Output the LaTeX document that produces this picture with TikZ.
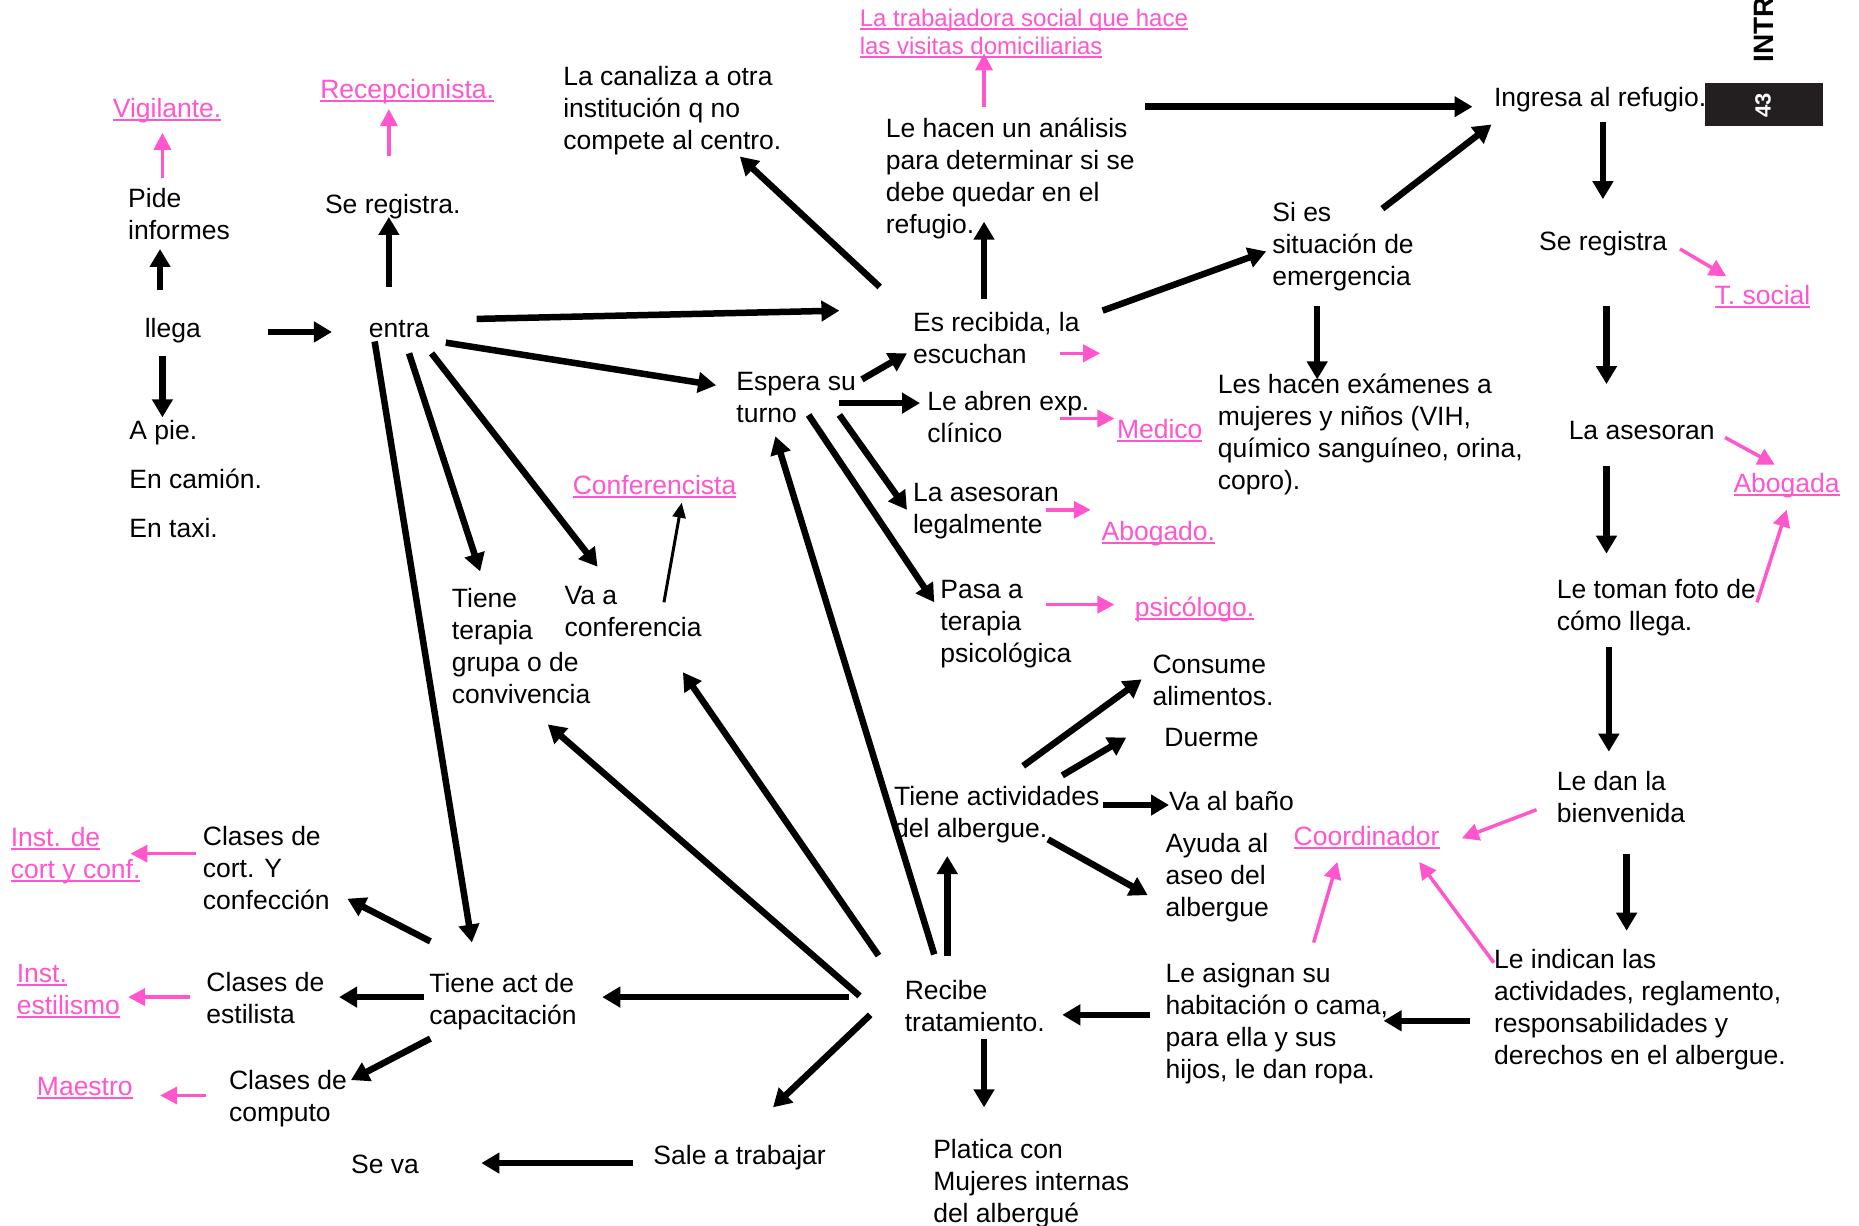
\documentclass[tikz,border=0pt]{standalone}
\usepackage{fontspec}
\setmainfont{Liberation Sans}
\usetikzlibrary{arrows.meta}
\definecolor{pk}{RGB}{255,85,205}
\definecolor{boxblk}{RGB}{35,31,32}
\newcommand\pinkul[1]{\leavevmode\setbox0\hbox{#1}\rlap{\rule[-3.5pt]{\wd0}{2pt}}\box0}
\newcommand\ml[1]{\begin{tabular}[t]{@{}l@{}}#1\end{tabular}}
\begin{document}
\begin{tikzpicture}[x=1.1856pt,y=-1.1856pt,
  txt/.style={anchor=base west, inner sep=0pt, font=\fontsize{26.5}{32}\selectfont},
  ptxt/.style={txt, text=pk},
  blk/.style={line width=6.5pt, -{Triangle[length=18pt,width=20pt]}},
  pka/.style={draw=pk, line width=3.5pt, -{Triangle[length=17pt,width=17pt]}},
  thinarr/.style={line width=3pt, -{Triangle[length=15pt,width=13pt]}}]
\useasboundingbox (0,0) rectangle (1568,1034);

% corner marks
\fill[boxblk] (1438,70) rectangle (1538,106);
\node[rotate=90, text=white, font=\fontsize{22}{24}\selectfont\bfseries, inner sep=0pt] (pagenum) at (1487,89) {43};
\node[rotate=90, anchor=base west, inner sep=0pt, font=\fontsize{28}{30}\selectfont\bfseries] (intro) at (1496,53) {INTRO};

% nodes
\node[ptxt] (vig) at (95,99) {\pinkul{Vigilante.}};
\node[ptxt] (recep) at (270,83) {\pinkul{Recepcionista.}};
\node[txt] (pide) at (108,175) {\ml{Pide\\informes}};
\node[txt] (sereg1) at (274,180) {Se registra.};
\node[txt] (llega) at (122,285) {llega};
\node[txt] (entra) at (311,285) {entra};
\node[txt, font=\fontsize{26.5}{48.6}\selectfont] (modos) at (109,371) {\ml{A pie.\\En camión.\\En taxi.}};
\node[txt] (canal) at (475,72) {\ml{La canaliza a otra\\institución q no\\compete al centro.}};
\node[ptxt, font=\fontsize{24}{28.5}\selectfont] (trab) at (725,22) {\ml{\pinkul{La trabajadora social que hace}\\\pinkul{las visitas domiciliarias}}};
\node[txt] (hacen) at (747,116) {\ml{Le hacen un análisis\\para determinar si se\\debe quedar en el\\refugio.}};
\node[txt] (ingresa) at (1260,90) {Ingresa al refugio.};
\node[txt] (recib) at (770,280) {\ml{Es recibida, la\\escuchan}};
\node[txt] (sies) at (1073,187) {\ml{Si es\\situación de\\emergencia}};
\node[txt] (exam) at (1027,332) {\ml{Les hacen exámenes a\\mujeres y niños (VIH,\\químico sanguíneo, orina,\\copro).}};
\node[txt] (espera) at (621,329) {\ml{Espera su\\turno}};
\node[txt] (abren) at (782,346) {\ml{Le abren exp.\\clínico}};
\node[ptxt] (medico) at (942,370) {\pinkul{Medico}};
\node[txt] (legal) at (770,423) {\ml{La asesoran\\legalmente}};
\node[ptxt] (abogado) at (929,456) {\pinkul{Abogado.}};
\node[txt] (pasa) at (793,505) {\ml{Pasa a\\terapia\\psicológica}};
\node[ptxt] (psico) at (957,520) {\pinkul{psicólogo.}};
\node[txt] (sereg2) at (1298,211) {Se registra};
\node[ptxt] (tsocial) at (1446,257) {\pinkul{T. social}};
\node[txt] (aseso) at (1323,371) {La asesoran};
\node[ptxt] (abogada) at (1462,415) {\pinkul{Abogada}};
\node[txt] (foto) at (1313,505) {\ml{Le toman foto de\\cómo llega.}};
\node[txt] (bienv) at (1313,667) {\ml{Le dan la\\bienvenida}};
\node[ptxt] (coord) at (1091,713) {\pinkul{Coordinador}};
\node[txt] (indican) at (1260,817) {\ml{Le indican las\\actividades, reglamento,\\responsabilidades y\\derechos en el albergue.}};
\node[txt] (asignan) at (983,829) {\ml{Le asignan su\\habitación o cama,\\para ella y sus\\hijos, le dan ropa.}};
\node[txt] (recibe) at (763,843) {\ml{Recibe\\tratamiento.}};
\node[txt] (platica) at (787,977) {\ml{Platica con\\Mujeres internas\\del albergué}};
\node[txt] (activ) at (754,679) {\ml{Tiene actividades\\del albergue.}};
\node[txt] (consume) at (972,568) {\ml{Consume\\alimentos.}};
\node[txt] (duerme) at (982,630) {Duerme};
\node[txt] (bano) at (986,684) {Va al baño};
\node[txt] (ayuda) at (983,719) {\ml{Ayuda al\\aseo del\\albergue}};
\node[txt] (sale) at (551,982) {Sale a trabajar};
\node[txt] (seva) at (296,990) {Se va};
\node[txt] (capac) at (362,837) {\ml{Tiene act de\\capacitación}};
\node[txt] (estil) at (174,836) {\ml{Clases de\\estilista}};
\node[ptxt] (instest) at (14,829) {\ml{\pinkul{Inst.}\\\pinkul{estilismo}}};
\node[txt] (corte) at (171,713) {\ml{Clases de\\cort. Y\\confección}};
\node[ptxt] (instcort) at (9,714) {\ml{\pinkul{Inst. de}\\\pinkul{cort y conf.}}};
\node[txt] (compu) at (193,919) {\ml{Clases de\\computo}};
\node[ptxt] (maestro) at (31,924) {\pinkul{Maestro}};
\node[txt] (terapia) at (381,512) {\ml{Tiene\\terapia\\grupa o de\\convivencia}};
\node[txt] (conf) at (476,510) {\ml{Va a\\conferencia}};
\node[ptxt] (confista) at (483,417) {\pinkul{Conferencista}};

% black connectors
\draw[blk] ([shift={(13,-40)}]llega.base west) -- ([shift={(27,35)}]pide.base west);
\draw[blk] ([shift={(17,-43)}]entra.base west) -- ([shift={(54,3)}]sereg1.base west);
\draw[blk] ([shift={(104,-5)}]llega.base west) -- ([shift={(-31,-5)}]entra.base west);
\draw[blk] ([shift={(15,15)}]llega.base west) -- ([shift={(28,-19)}]modos.base west);
\draw[blk] ([shift={(91,-16)}]entra.base west) -- ([shift={(-62,-18)}]recib.base west);
\draw[blk] ([shift={(-28,-38)}]recib.base west) -- ([shift={(149,60)}]canal.base west);
\draw[blk] ([shift={(60,-28)}]recib.base west) -- ([shift={(83,71)}]hacen.base west);
\draw[blk] ([shift={(219,-26)}]hacen.base west) -- ([shift={(-18,0)}]ingresa.base west);
\draw[blk] ([shift={(160,-18)}]recib.base west) -- ([shift={(-5,25)}]sies.base west);
\draw[blk] ([shift={(93,-11)}]sies.base west) -- ([shift={(-2,15)}]ingresa.base west);
\draw[blk] ([shift={(38,71)}]sies.base west) -- ([shift={(84,-12)}]exam.base west);
\draw[blk] ([shift={(65,4)}]entra.base west) -- ([shift={(-17,-4)}]espera.base west);
\draw[blk] ([shift={(106,-9)}]espera.base west) -- ([shift={(-5,18)}]recib.base west);
\draw[blk] ([shift={(87,11)}]espera.base west) -- ([shift={(-6,-6)}]abren.base west);
\draw[blk] ([shift={(87,21)}]espera.base west) -- ([shift={(-5,7)}]legal.base west);
\draw[blk] ([shift={(61,21)}]espera.base west) -- ([shift={(-5,3)}]pasa.base west);
\draw[blk] ([shift={(92,13)}]ingresa.base west) -- ([shift={(54,-43)}]sereg2.base west);
\draw[blk] ([shift={(57,47)}]sereg2.base west) -- ([shift={(32,-47)}]aseso.base west);
\draw[blk] ([shift={(32,22)}]aseso.base west) -- ([shift={(42,-38)}]foto.base west);
\draw[blk] ([shift={(44,41)}]foto.base west) -- ([shift={(44,-33)}]bienv.base west);
\draw[blk] ([shift={(59,53)}]bienv.base west) -- ([shift={(112,-32)}]indican.base west);
\draw[blk] ([shift={(-20,44)}]indican.base west) -- ([shift={(184,32)}]asignan.base west);
\draw[blk] ([shift={(-13,27)}]asignan.base west) -- ([shift={(133,13)}]recibe.base west);
\draw[blk] ([shift={(67,33)}]recibe.base west) -- ([shift={(43,-43)}]platica.base west);
\draw[blk] ([shift={(36,-37)}]recibe.base west) -- ([shift={(45,43)}]activ.base west);
\draw[blk] ([shift={(109,-33)}]activ.base west) -- ([shift={(-9,5)}]consume.base west);
\draw[blk] ([shift={(142,-25)}]activ.base west) -- ([shift={(-32,-8)}]duerme.base west);
\draw[blk] ([shift={(176,0)}]activ.base west) -- ([shift={(0,-5)}]bano.base west);
\draw[blk] ([shift={(130,29)}]activ.base west) -- ([shift={(-15,36)}]ayuda.base west);
\draw[blk] ([shift={(25,-38)}]recibe.base west) -- ([shift={(33,39)}]espera.base west);
\draw[blk] ([shift={(-22,-37)}]recibe.base west) -- ([shift={(100,57)}]conf.base west);
\draw[blk] ([shift={(-38,-3)}]recibe.base west) -- ([shift={(81,99)}]terapia.base west);
\draw[blk] ([shift={(-47,-2)}]recibe.base west) -- ([shift={(146,4)}]capac.base west);
\draw[blk] ([shift={(-29,13)}]recibe.base west) -- ([shift={(101,-48)}]sale.base west);
\draw[blk] ([shift={(-17,-1)}]sale.base west) -- ([shift={(110,-9)}]seva.base west);
\draw[blk] ([shift={(-4,4)}]capac.base west) -- ([shift={(112,5)}]estil.base west);
\draw[blk] ([shift={(1,-43)}]capac.base west) -- ([shift={(122,45)}]corte.base west);
\draw[blk] ([shift={(1,39)}]capac.base west) -- ([shift={(103,-8)}]compu.base west);
\draw[blk] ([shift={(5,3)}]entra.base west) -- ([shift={(36,-42)}]capac.base west);
\draw[blk] ([shift={(34,13)}]entra.base west) -- ([shift={(24,-30)}]terapia.base west);
\draw[blk] ([shift={(53,13)}]entra.base west) -- ([shift={(28,-32)}]conf.base west);
\draw[thinarr] ([shift={(84,-2)}]conf.base west) -- ([shift={(92,7)}]confista.base west);

% pink connectors
\coordinate (escfree) at ([shift={(158,18)}]recib.base west);
\draw[pka] ([shift={(29,-25)}]pide.base west) -- ([shift={(42,13)}]vig.base west);
\draw[pka] ([shift={(54,-48)}]sereg1.base west) -- ([shift={(58,9)}]recep.base west);
\draw[pka] ([shift={(83,-26)}]hacen.base west) -- ([shift={(105,23)}]trab.base west);
\draw[pka] ([shift={(124,18)}]recib.base west) -- (escfree);
\draw[pka] ([shift={(112,7)}]abren.base west) -- ([shift={(-2,-17)}]medico.base west);
\draw[pka] ([shift={(112,7)}]legal.base west) -- ([shift={(-9,-26)}]abogado.base west);
\draw[pka] ([shift={(89,5)}]pasa.base west) -- ([shift={(-17,-10)}]psico.base west);
\draw[pka] ([shift={(119,-1)}]sereg2.base west) -- ([shift={(10,-24)}]tsocial.base west);
\draw[pka] ([shift={(132,-2)}]aseso.base west) -- ([shift={(35,-23)}]abogada.base west);
\draw[pka] ([shift={(169,3)}]foto.base west) -- ([shift={(45,15)}]abogada.base west);
\draw[pka] ([shift={(-17,16)}]bienv.base west) -- ([shift={(142,-6)}]coord.base west);
\draw[pka] ([shift={(0,-5)}]indican.base west) -- ([shift={(106,14)}]coord.base west);
\draw[pka] ([shift={(125,-34)}]asignan.base west) -- ([shift={(37,14)}]coord.base west);
\draw[pka] ([shift={(-14,5)}]estil.base west) -- ([shift={(94,12)}]instest.base west);
\draw[pka] ([shift={(-6,7)}]corte.base west) -- ([shift={(101,6)}]instcort.base west);
\draw[pka] ([shift={(-19,5)}]compu.base west) -- ([shift={(104,0)}]maestro.base west);
\end{tikzpicture}
\end{document}
